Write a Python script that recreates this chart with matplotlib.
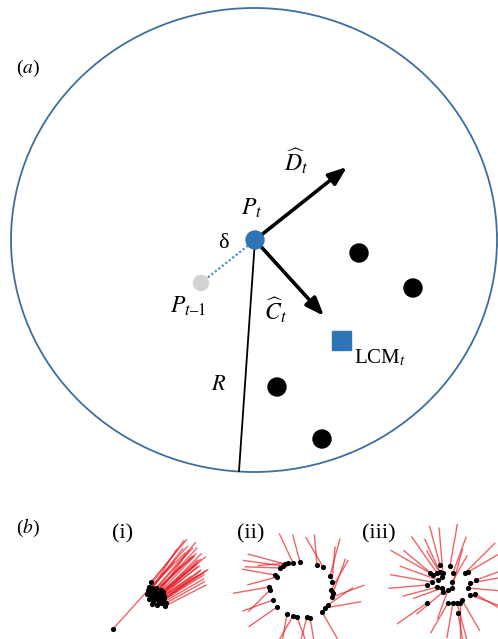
import numpy as np
import matplotlib.pyplot as plt
from matplotlib.patches import Ellipse, Circle, Rectangle

plt.rcParams['font.family'] = ['Liberation Serif', 'DejaVu Serif']
plt.rcParams['mathtext.fontset'] = 'stix'

# --- panel (a): pixel-style coordinates, y grows downward ---
arena_centre = (254, 240)
arena_size = (486, 464)
p_now = (255, 240)
p_prev = (201, 283)
d_tip = (347, 167)
c_tip = (324, 316)
lcm = (341, 340)
r_end = (239, 471)
neighbours_x = [359, 413, 277, 322]
neighbours_y = [253, 288, 387, 439]

# --- panel (b): agent positions, heading (deg, anticlockwise) and heading-line length ---
# (i) polarised group
b1_x = [113, 151, 148, 150, 152, 154, 156, 158, 160, 162, 164, 149, 153, 157, 161, 165,
        147, 155, 159, 163, 150, 156, 160, 166, 151, 154, 158, 162, 149, 157, 161, 164,
        152, 155, 159, 163]
b1_y = [629, 582, 590, 595, 588, 597, 592, 600, 595, 603, 598, 599, 602, 605, 590, 606,
        594, 593, 603, 600, 592, 588, 597, 603, 596, 599, 594, 601, 587, 598, 593, 596,
        604, 590, 599, 592]
b1_ang = [48, 50, 45, 42, 52, 38, 47, 35, 40, 30, 33, 46, 41, 36, 55, 27,
          50, 44, 32, 38, 58, 49, 43, 29, 44, 39, 46, 34, 53, 37, 42, 31,
          35, 48, 40, 45]
b1_len = [111, 55, 52, 58, 50, 55, 60, 52, 59, 48, 50, 45, 55, 50, 48, 46,
          42, 57, 53, 47, 50, 60, 55, 44, 56, 54, 52, 50, 58, 53, 49, 51,
          47, 56, 50, 54]

# (ii) milling ring
b2_x = [280, 283, 288, 293, 300, 317, 323, 330, 332, 333, 332, 328, 325, 322, 310,
        307, 297, 293, 287, 277, 273, 270, 269, 275, 277, 285, 331]
b2_y = [568, 566, 563, 563, 562, 565, 567, 576, 582, 593, 597, 605, 608, 612, 618,
        617, 617, 616, 614, 607, 600, 590, 587, 575, 577, 564, 590]
b2_ang = [178, 172, 185, 115, 105, 95, 120, 75, 85, 70, 20, 35, 10, 300, 280,
          255, 290, 240, 260, 215, 200, 225, 190, 170, 195, 165, 60]
b2_len = [35, 40, 30, 32, 28, 30, 34, 38, 35, 36, 34, 30, 36, 32, 35,
          30, 38, 36, 30, 34, 32, 30, 36, 33, 30, 38, 34]

# (iii) swarm
b3_x = [440, 450, 430, 433, 437, 440, 442, 443, 438, 432, 427, 437, 442, 443, 448, 452,
        453, 452, 465, 468, 470, 476, 468, 470, 475, 457, 462, 460, 453, 448, 427, 458]
b3_y = [565, 566, 573, 575, 573, 572, 577, 573, 580, 582, 585, 587, 588, 592, 590, 588,
        573, 582, 573, 572, 583, 580, 588, 595, 594, 603, 600, 603, 603, 603, 603, 613]
b3_ang = [105, 80, 150, 140, 125, 115, 120, 95, 160, 170, 185, 195, 200, 220, 250, 75,
          70, 60, 45, 30, 10, 20, 355, 340, 330, 285, 300, 270, 260, 240, 215, 280]
b3_len = [40, 42, 45, 38, 44, 36, 30, 45, 40, 42, 38, 35, 30, 34, 30, 40,
          38, 30, 42, 40, 40, 45, 38, 42, 40, 40, 35, 38, 35, 34, 36, 30]

fig = plt.figure(figsize=(4.98, 6.39), dpi=100)
ax = fig.add_axes([0, 0, 1, 1])
ax.set_xlim(0, 498)
ax.set_ylim(639, 0)
ax.axis('off')

blue = '#2e75b6'

ax.add_patch(Ellipse(arena_centre, arena_size[0], arena_size[1], fill=False,
                     edgecolor='#3d6e9e', lw=1.3))

# radius line and previous-step link
ax.plot([p_now[0], r_end[0]], [p_now[1], r_end[1]], color='black', lw=1.3)
ax.plot([p_prev[0], p_now[0]], [p_prev[1], p_now[1]], color='#4a90d9', lw=1.6,
        linestyle=(0, (1, 1)))

# heading and centre-of-mass arrows
for tip in (d_tip, c_tip):
    ax.annotate('', xy=tip, xytext=p_now,
                arrowprops=dict(arrowstyle='-|>,head_length=1.1,head_width=0.42',
                                lw=2.6, color='black', shrinkA=0, shrinkB=0))

ax.add_patch(Circle(p_prev, 7.5, color='#d3d3d3', zorder=3))
ax.add_patch(Circle(p_now, 9, color=blue, zorder=4))
for x, y in zip(neighbours_x, neighbours_y):
    ax.add_patch(Circle((x, y), 9, color='black', zorder=3))
ax.add_patch(Rectangle((lcm[0] - 9.5, lcm[1] - 9.5), 19, 19, color=blue, zorder=3))

ax.text(28, 68, '($a$)', fontsize=14, ha='center', va='center')
ax.text(252, 208, '$P_t$', fontsize=17, ha='center', va='center')
ax.text(223, 243, 'δ', fontsize=16, ha='center', va='center')
ax.text(188, 306, '$P_{t\\mathrm{\u2013}1}$', fontsize=17, ha='center', va='center')
ax.text(296, 161, r'$\widehat{D}_t$', fontsize=17, ha='center', va='center')
ax.text(276, 310, r'$\widehat{C}_t$', fontsize=17, ha='center', va='center')
ax.text(354, 358, 'LCM$_t$', fontsize=15, ha='left', va='center')
ax.text(219, 386, '$R$', fontsize=16, ha='center', va='center')

# panel (b)
ax.text(28, 528, '($b$)', fontsize=14, ha='center', va='center')
ax.text(123, 534, '(i)', fontsize=16, ha='center', va='center')
ax.text(251, 534, '(ii)', fontsize=16, ha='center', va='center')
ax.text(379, 534, '(iii)', fontsize=16, ha='center', va='center')

red = '#e8232a'
for xs, ys, angs, lens in ((b1_x, b1_y, b1_ang, b1_len),
                           (b2_x, b2_y, b2_ang, b2_len),
                           (b3_x, b3_y, b3_ang, b3_len)):
    xs = np.array(xs, float)
    ys = np.array(ys, float)
    a = np.radians(angs)
    ex = xs + np.array(lens) * np.cos(a)
    ey = ys - np.array(lens) * np.sin(a)
    for x0, y0, x1, y1 in zip(xs, ys, ex, ey):
        ax.plot([x0, x1], [y0, y1], color=red, lw=1.0, alpha=0.7, zorder=2)
    ax.scatter(xs, ys, s=14, color='black', zorder=3, linewidths=0)

fig.savefig('out.png', dpi=100)
